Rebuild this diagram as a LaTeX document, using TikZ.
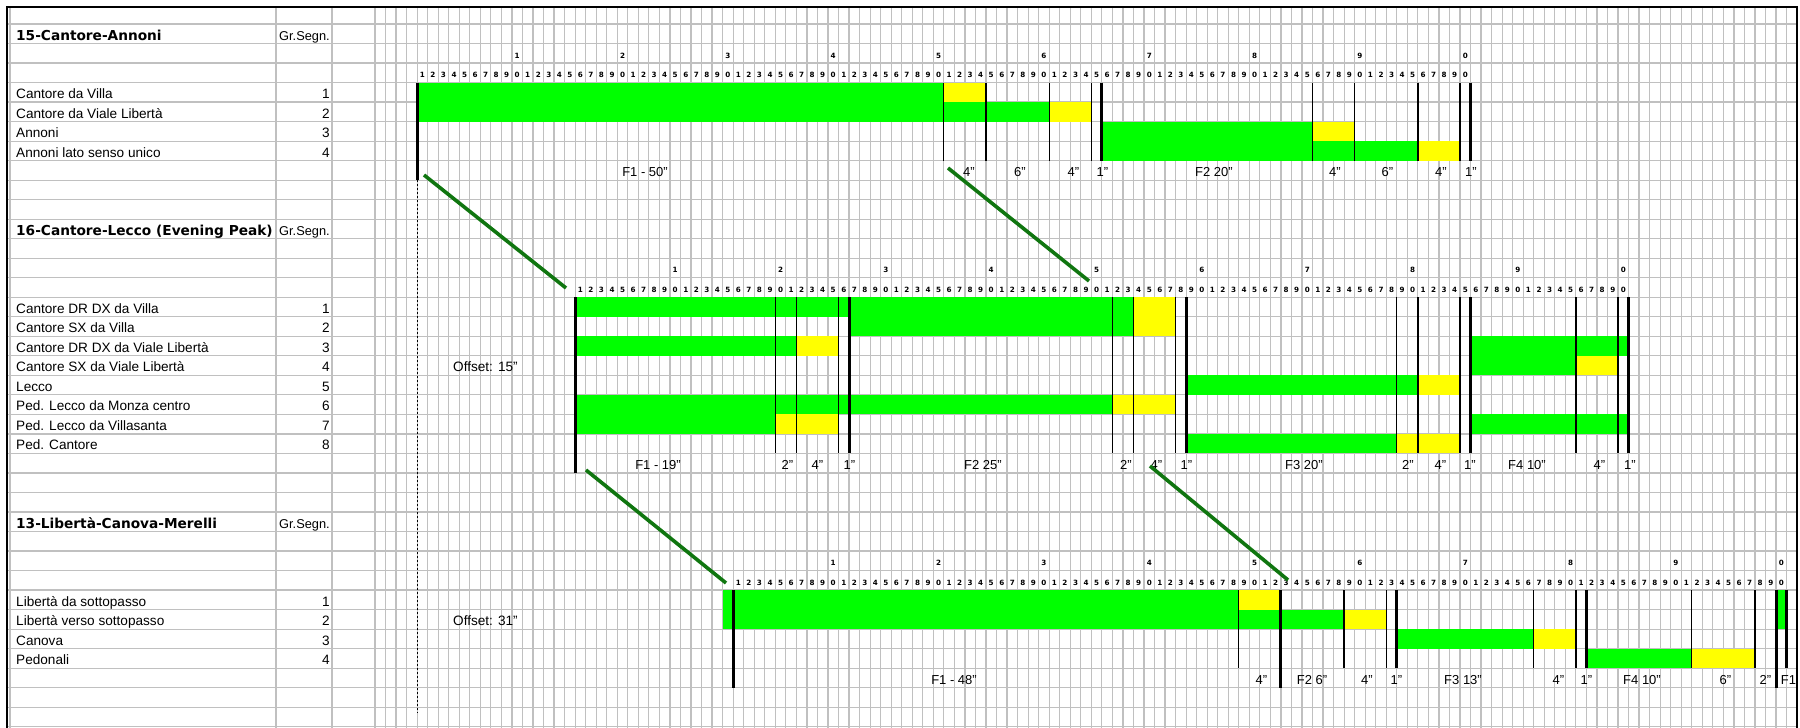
\documentclass[tikz,border=0pt]{standalone}
\usepackage{fontspec}
\setmainfont{Liberation Sans}
\newfontfamily\titlefont{DejaVu Sans}
\newfontfamily\digfont{DejaVu Sans}
\definecolor{sgreen}{RGB}{0,255,0}
\definecolor{syellow}{RGB}{255,255,0}
\definecolor{gridgray}{RGB}{192,192,192}
\definecolor{linkgreen}{RGB}{16,118,16}
\newcommand{\XX}[1]{375+10.534*(#1)}
\newcommand{\YY}[1]{24+19.52*(#1)}
% fill a phase: k0, row, s1, s2, colour
\newcommand{\phase}[5]{\fill[#5] ({\XX{#1+#3}},{\YY{#2}}) rectangle ({\XX{#1+#4}},{\YY{#2+1}});}
% separator: k0, s, first row, row after last, width
\newcommand{\sepline}[5]{\draw[line width=#5] ({\XX{#1+#2}},{\YY{#3}}) -- ({\XX{#1+#2}},{\YY{#4}});}
% time scale: prefix, k0, row of big digits
\newcommand{\timescale}[3]{%
  \foreach \i in {1,...,100}{%
    \pgfmathtruncatemacro{\dd}{mod(\i,10)}%
    \node[dig] (#1s\i) at ({\XX{#2+\i-0.5}},{\YY{#3+2}-5}) {\dd};}
  \foreach \j in {1,...,10}{%
    \pgfmathtruncatemacro{\bb}{mod(\j,10)}%
    \node[dig] (#1b\j) at ({\XX{#2+10*\j-0.5}},{\YY{#3+1}-5}) {\bb};}}
% group row: id, row, text, number
\newcommand{\grp}[4]{%
  \node[lbl] (#1) at (16,{\YY{#2+1}-3.5}) {#3};
  \node[num] (#1n) at (330,{\YY{#2+1}-3.5}) {#4};}
\newcommand{\dur}[4]{\node[durl] (#1) at (#3,{\YY{#2+1}-3.5}) {#4};}
\tikzset{
  gridline/.style={draw=gridgray, line width=1.2pt},
  lbl/.style={anchor=base west, inner sep=0pt, font=\fontsize{13.6}{16}\selectfont},
  num/.style={anchor=base east, inner sep=0pt, font=\fontsize{13.6}{16}\selectfont},
  ttl/.style={anchor=base west, inner sep=0pt, font=\fontsize{13.7}{16}\titlefont\bfseries},
  hdr/.style={anchor=base west, inner sep=0pt, font=\fontsize{12.8}{15}\selectfont},
  durl/.style={anchor=base, inner sep=0pt, font=\fontsize{13}{15}\selectfont},
  dig/.style={anchor=base, inner sep=0pt, font=\fontsize{7.2}{8}\digfont\bfseries},
  link/.style={draw=linkgreen, line width=3.6pt},
}
\begin{document}
\begin{tikzpicture}[x=1pt,y=-1pt]
\useasboundingbox (0,0) rectangle (1800,728);
\fill[white] (0,0) rectangle (1800,728);
% ---------- grid ----------
\foreach \n in {0,...,36} \draw[gridline] (7,{\YY{\n}}) -- (1797,{\YY{\n}});
\foreach \k in {0,...,135} \draw[gridline] ({\XX{\k}},7) -- ({\XX{\k}},728);
\foreach \x in {10,276,332} \draw[gridline] (\x,7) -- (\x,728);
% ---------- borders ----------
\draw[line width=2.2pt] (7,728) -- (7,7) -- (1797,7) -- (1797,728);

% ================= Section 1 (k0 = 4) =================
\phase{4}{3}{0}{50}{sgreen}  \phase{4}{3}{50}{54}{syellow}
\phase{4}{4}{0}{60}{sgreen}  \phase{4}{4}{60}{64}{syellow}
\phase{4}{5}{65}{85}{sgreen} \phase{4}{5}{85}{89}{syellow}
\phase{4}{6}{65}{95}{sgreen} \phase{4}{6}{95}{99}{syellow}
\sepline{4}{0}{3}{8}{3pt}
\foreach \s in {50,54,60,64,85,89,95,99} {\sepline{4}{\s}{3}{7}{1.3pt}}
\sepline{4}{65}{3}{7}{3pt} \sepline{4}{100}{3}{7}{3pt}
\timescale{a}{4}{1}
\node[ttl] (t1) at (16,{\YY{1}-3.5}) {15-Cantore-Annoni};
\node[hdr] (h1) at (279,{\YY{1}-3.5}) {Gr.Segn.};
\grp{a1}{3}{Cantore da Villa}{1}
\grp{a2}{4}{Cantore da Viale Libertà}{2}
\grp{a3}{5}{Annoni}{3}
\grp{a4}{6}{Annoni lato senso unico}{4}
\dur{la1}{7}{645}{F1 - 50"}
\dur{la2}{7}{969}{4"}
\dur{la3}{7}{1020}{6"}
\dur{la4}{7}{1073.5}{4"}
\dur{la5}{7}{1102.5}{1"}
\dur{la6}{7}{1214}{F2 20"}
\dur{la7}{7}{1335}{4"}
\dur{la8}{7}{1387.5}{6"}
\dur{la9}{7}{1441}{4"}
\dur{la10}{7}{1471}{1"}

% ================= Section 2 (k0 = 19) =================
\phase{19}{14}{0}{53}{sgreen}  \phase{19}{14}{53}{57}{syellow}
\phase{19}{15}{26}{53}{sgreen} \phase{19}{15}{53}{57}{syellow}
\phase{19}{16}{0}{21}{sgreen}  \phase{19}{16}{21}{25}{syellow} \phase{19}{16}{85}{100}{sgreen}
\phase{19}{17}{85}{95}{sgreen} \phase{19}{17}{95}{99}{syellow}
\phase{19}{18}{58}{80}{sgreen} \phase{19}{18}{80}{84}{syellow}
\phase{19}{19}{0}{51}{sgreen}  \phase{19}{19}{51}{57}{syellow}
\phase{19}{20}{0}{19}{sgreen}  \phase{19}{20}{19}{25}{syellow} \phase{19}{20}{85}{100}{sgreen}
\phase{19}{21}{58}{78}{sgreen} \phase{19}{21}{78}{84}{syellow}
\sepline{19}{0}{14}{23}{3pt}
\foreach \s in {19,21,25,51,53,57,78,80,84,95,99} {\sepline{19}{\s}{14}{22}{1.3pt}}
\foreach \s in {26,58,85,100} {\sepline{19}{\s}{14}{22}{3pt}}
\timescale{b}{19}{12}
\node[ttl] (t2) at (16,{\YY{11}-3.5}) {16-Cantore-Lecco (Evening Peak)};
\node[hdr] (h2) at (279,{\YY{11}-3.5}) {Gr.Segn.};
\grp{b1}{14}{Cantore DR DX da Villa}{1}
\grp{b2}{15}{Cantore SX da Villa}{2}
\grp{b3}{16}{Cantore DR DX da Viale Libertà}{3}
\grp{b4}{17}{Cantore SX da Viale Libertà}{4}
\grp{b5}{18}{Lecco}{5}
\grp{b6}{19}{Ped. Lecco da Monza centro}{6}
\grp{b7}{20}{Ped. Lecco da Villasanta}{7}
\grp{b8}{21}{Ped. Cantore}{8}
\node[lbl] (off2) at (453,{\YY{18}-3.5}) {Offset: 15"};
\dur{lb1}{22}{658}{F1 - 19"}
\dur{lb2}{22}{787.5}{2"}
\dur{lb3}{22}{817.5}{4"}
\dur{lb4}{22}{849.5}{1"}
\dur{lb5}{22}{983}{F2 25"}
\dur{lb6}{22}{1126}{2"}
\dur{lb7}{22}{1156.5}{4"}
\dur{lb8}{22}{1186.5}{1"}
\dur{lb9}{22}{1304}{F3 20"}
\dur{lb10}{22}{1408}{2"}
\dur{lb11}{22}{1440.5}{4"}
\dur{lb12}{22}{1470}{1"}
\dur{lb13}{22}{1527}{F4 10"}
\dur{lb14}{22}{1599.5}{4"}
\dur{lb15}{22}{1630}{1"}

% ================= Section 3 (k0 = 34) =================
\phase{33}{29}{0}{49}{sgreen}  \phase{34}{29}{48}{52}{syellow} \phase{34}{29}{99}{100}{sgreen}
\phase{33}{30}{0}{59}{sgreen}  \phase{34}{30}{58}{62}{syellow} \phase{34}{30}{99}{100}{sgreen}
\phase{34}{31}{63}{76}{sgreen} \phase{34}{31}{76}{80}{syellow}
\phase{34}{32}{81}{91}{sgreen} \phase{34}{32}{91}{97}{syellow}
\sepline{34}{0}{29}{34}{3pt}
\foreach \s in {48,58,62,76,80,91,97} {\sepline{34}{\s}{29}{33}{1.3pt}}
\sepline{34}{52}{29}{34}{3pt}
\sepline{34}{63}{29}{33}{3pt} \sepline{34}{81}{29}{33}{3pt}
\sepline{34}{99}{29}{34}{3pt} \sepline{34}{100}{29}{33}{3pt}
\timescale{c}{34}{27}
\node[ttl] (t3) at (16,{\YY{26}-3.5}) {13-Libertà-Canova-Merelli};
\node[hdr] (h3) at (279,{\YY{26}-3.5}) {Gr.Segn.};
\grp{c1}{29}{Libertà da sottopasso}{1}
\grp{c2}{30}{Libertà verso sottopasso}{2}
\grp{c3}{31}{Canova}{3}
\grp{c4}{32}{Pedonali}{4}
\node[lbl] (off3) at (453,{\YY{31}-3.5}) {Offset: 31"};
\dur{lc1}{33}{954}{F1 - 48"}
\dur{lc2}{33}{1261.5}{4"}
\dur{lc3}{33}{1312}{F2 6"}
\dur{lc4}{33}{1367}{4"}
\dur{lc5}{33}{1396.5}{1"}
\dur{lc6}{33}{1463}{F3 13"}
\dur{lc7}{33}{1558.5}{4"}
\dur{lc8}{33}{1586.5}{1"}
\dur{lc9}{33}{1642}{F4 10"}
\dur{lc10}{33}{1725.5}{6"}
\dur{lc11}{33}{1765.5}{2"}
\dur{lc12}{33}{1788.5}{F1}

% ---------- reference dotted line ----------
\coordinate (dtop) at ({\XX{4}},{\YY{8}});
\coordinate (dbot) at ({\XX{4}},{\YY{35.3}});
\draw[line width=1pt, dash pattern=on 2pt off 2pt] (dtop) -- (dbot);

% ---------- offset links ----------
\coordinate (p1a) at (424,175);  \coordinate (p1b) at (566,288);
\coordinate (p2a) at (948,168);  \coordinate (p2b) at (1089,281);
\coordinate (p3a) at (586,470);  \coordinate (p3b) at (726,583);
\coordinate (p4a) at (1150,466); \coordinate (p4b) at (1288,580);
\draw[link] (p1a) -- (p1b);
\draw[link] (p2a) -- (p2b);
\draw[link] (p3a) -- (p3b);
\draw[link] (p4a) -- (p4b);
\end{tikzpicture}
\end{document}
